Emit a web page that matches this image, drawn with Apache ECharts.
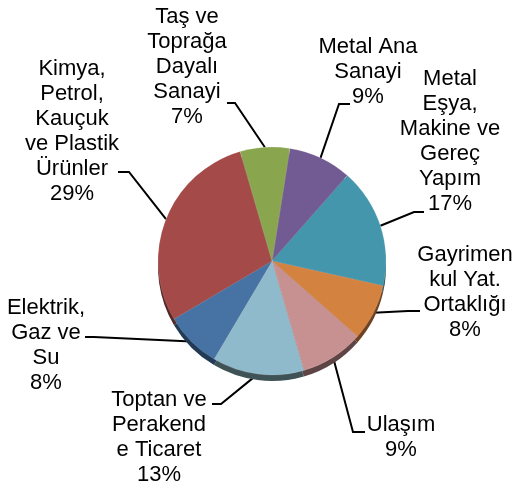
<!DOCTYPE html>
<html>
<head>
<meta charset="utf-8">
<script src="https://cdn.jsdelivr.net/npm/echarts@6/dist/echarts.min.js"></script>
<style>
html, body { margin: 0; padding: 0; background: #fff; }
#chart { width: 515px; height: 489px; }
</style>
</head>
<body>
<div id="chart"></div>
<script>
// sektör adları (görseldeki satır kırılımlarıyla)
var categories = [
    'Metal Ana\nSanayi',
    'Metal\nEşya,\nMakine ve\nGereç\nYapım',
    'Gayrimen\nkul Yat.\nOrtaklığı',
    'Ulaşım',
    'Toptan ve\nPerakend\ne Ticaret',
    'Elektrik,\nGaz ve\nSu',
    'Kimya,\nPetrol,\nKauçuk\nve Plastik\nÜrünler',
    'Taş ve\nToprağa\nDayalı\nSanayi'
];
var values = [9, 17, 8, 9, 13, 8, 29, 7];

var colors = ['#725a92', '#4496ac', '#d48240', '#c89191', '#8fbacc', '#4672a4', '#a44a48', '#89a54e'];
var shadowColors = ['#3e3150', '#25525e', '#6e4222', '#5e4444', '#3f5256', '#223a55', '#552726', '#4a5a2a'];

// etiket yerleşimi: x,y = blok merkezi; ax,ay = çizginin etikete değdiği nokta; bx = kırılma noktası
var labelPos = [
    { x: 368, y: 72, ax: 350, ay: 104, bx: 339 },
    { x: 450, y: 141, ax: 424, ay: 212, bx: 414 },
    { x: 465, y: 292, ax: 420, ay: 311, bx: 408 },
    { x: 401, y: 437, ax: 365, ay: 432, bx: 353 },
    { x: 159, y: 437, ax: 212, ay: 404, bx: 221 },
    { x: 46, y: 345, ax: 85, ay: 337, bx: 94 },
    { x: 72, y: 131, ax: 118, ay: 172, bx: 129 },
    { x: 187, y: 67, ax: 227, ay: 103, bx: 235 }
];

var mainData = [], shadowData = [];
categories.forEach(function (name, i) {
    mainData.push({ name: name, value: values[i], itemStyle: { color: colors[i] } });
    shadowData.push({ name: name, value: values[i], itemStyle: { color: shadowColors[i] } });
});

var option = {
    animation: false,
    series: [
        {
            // alt gölge (3B etkisi)
            type: 'pie',
            center: [272, 267],
            radius: 114,
            startAngle: 81,
            silent: true,
            label: { show: false },
            labelLine: { show: false },
            data: shadowData
        },
        {
            type: 'pie',
            center: [272, 261],
            radius: 114,
            startAngle: 81,
            avoidLabelOverlap: false,
            itemStyle: {
                borderColor: 'rgba(255,255,255,0.25)',
                borderWidth: 0.5
            },
            label: {
                show: true,
                position: 'outside',
                color: '#000',
                fontFamily: 'Liberation Sans, Arial, sans-serif',
                fontSize: 22,
                lineHeight: 25,
                formatter: function (p) {
                    return p.name + '\n' + p.value + '%';
                }
            },
            labelLine: {
                show: true,
                lineStyle: { color: '#000', width: 2 }
            },
            labelLayout: function (params) {
                var p = labelPos[params.dataIndex];
                var start = params.labelLinePoints ? params.labelLinePoints[0] : [p.bx, p.ay];
                return {
                    x: p.x,
                    y: p.y,
                    align: 'center',
                    verticalAlign: 'middle',
                    labelLinePoints: [start, [p.bx, p.ay], [p.ax, p.ay]]
                };
            },
            data: mainData
        }
    ]
};

var myChart = echarts.init(document.getElementById('chart'));
myChart.setOption(option);
</script>
</body>
</html>
